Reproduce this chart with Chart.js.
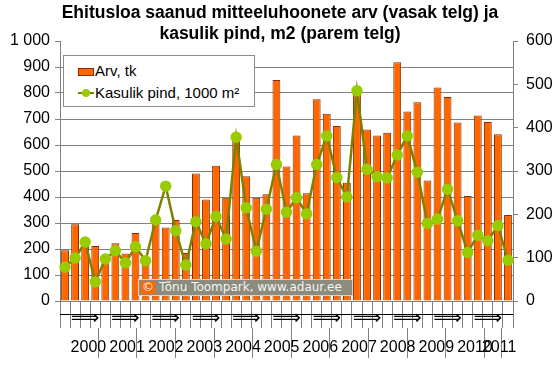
<!DOCTYPE html>
<html>
<head>
<meta charset="utf-8">
<script src="https://cdn.jsdelivr.net/npm/chart.js@4.4.1/dist/chart.umd.min.js"></script>
<style>
  body { margin: 0; background: #fff; }
  #wrap { position: relative; width: 560px; height: 365px; }
  #legend {
    position: absolute; left: 63px; top: 55px; width: 190px; height: 50px;
    background: #fff; border: 1px solid #8c8c8c;
    font: 15px Arial, "Liberation Sans", sans-serif; color: #000;
  }
  #legend .row { position: absolute; left: 14px; height: 20px; line-height: 20px; white-space: nowrap; }
  #legend .box { position: absolute; left: 0; top: 7px; width: 14px; height: 6px; border: 1px solid #803000; }
  #legend .ln { position: absolute; left: 0; top: 9px; width: 16px; height: 2px; }
  #legend .dot { position: absolute; left: 4px; top: 6px; width: 8px; height: 8px; border-radius: 50%; }
  #legend .txt { position: absolute; left: 17px; top: 0; }
  #copyright {
    position: absolute; left: 138px; top: 279px; width: 213px; height: 15px;
    background: #8b8b7e; border: 1px solid #d4d4cc; color: #f6f6f6;
    font: 12px "DejaVu Sans", sans-serif; line-height: 15px; white-space: nowrap;
  }
  #copyright .c {
    display: inline-block; width: 14px; height: 13px; margin: 1px 4px 0 2px;
    background: #ff6600; color: #fff; text-align: center; line-height: 13px; vertical-align: top;
  }
</style>
</head>
<body>
<div id="wrap">
  <canvas id="chart" width="560" height="365"></canvas>
  <div id="legend"></div>
  <div id="copyright"><span class="c">©</span>Tõnu Toompark, www.adaur.ee</div>
</div>
<script>
// andmed: kvartalid 2000 I ... 2011 I
const years = ['2000', '2001', '2002', '2003', '2004', '2005', '2006', '2007', '2008', '2009', '2010', '2011'];
const quarterNames = ['I', 'II', 'III', 'IV'];
const quarterMarks = ['', '', '\u27F9', ''];

const arv = [195, 295, 212, 212, 160, 222, 183, 262, 165, 296, 283, 312,
             185, 490, 390, 520, 397, 630, 480, 397, 411, 850, 517, 637,
             414, 776, 720, 673, 455, 810, 660, 637, 647, 918, 729, 764,
             463, 821, 785, 687, 404, 713, 688, 641, 331];
const pind = [78, 99, 136, 44, 97, 116, 88, 125, 93, 187, 265, 162,
              83, 183, 132, 195, 143, 378, 215, 115, 212, 315, 205, 238,
              201, 315, 381, 285, 240, 485, 304, 287, 284, 337, 381, 297,
              179, 189, 258, 185, 112, 152, 139, 174, 94];

const leftTicks = ['0', '100', '200', '300', '400', '500', '600', '700', '800', '900', '1 000'];
const rightTicks = ['0', '100', '200', '300', '400', '500', '600'];

const seriesNames = ['Arv, tk', 'Kasulik pind, 1000 m\u00B2'];

const periods = [];
years.forEach(y => quarterNames.forEach(q => periods.push(y + ' ' + q)));
periods.length = arv.length;

// aastate piirid ja keskkohad alumisele teljele
const yearTicks = [];
const yearBounds = new Set();
const yearCenters = {};
years.forEach((y, i) => {
    const start = i * 4;
    const n = Math.min(4, periods.length - start);
    yearBounds.add(start);
    yearTicks.push({ value: start });
    yearCenters[start + n / 2] = y;
    yearTicks.push({ value: start + n / 2 });
});
yearBounds.add(periods.length);
yearTicks.push({ value: periods.length });

const font = 'Arial, "Liberation Sans", sans-serif';
const gray = '#808080';

const axisRule = {
    id: 'axisRule',
    afterDraw(chart) {
        const x = chart.scales.x;
        const c = chart.ctx;
        c.save();
        c.strokeStyle = '#000';
        c.lineWidth = 1;
        c.beginPath();
        c.moveTo(x.left, x.top + 13.5);
        c.lineTo(x.right, x.top + 13.5);
        c.stroke();
        c.restore();
    }
};

const chart = new Chart(document.getElementById('chart'), {
    type: 'bar',
    data: {
        labels: periods,
        datasets: [{
            type: 'bar',
            label: seriesNames[0],
            data: arv,
            yAxisID: 'y',
            backgroundColor: '#ff6600',
            borderColor: '#803000',
            borderWidth: 1,
            categoryPercentage: 1,
            barPercentage: 0.78,
            order: 2
        }, {
            type: 'line',
            label: seriesNames[1],
            data: pind,
            yAxisID: 'y2',
            borderColor: '#808000',
            borderWidth: 2.5,
            pointBackgroundColor: '#99cc00',
            pointBorderColor: '#99cc00',
            pointRadius: 4.5,
            tension: 0,
            order: 1
        }]
    },
    options: {
        responsive: false,
        animation: false,
        events: [],
        plugins: {
            legend: { display: false },
            tooltip: { enabled: false },
            title: {
                display: true,
                text: ['Ehitusloa saanud mitteeluhoonete arv (vasak telg) ja', 'kasulik pind, m2 (parem telg)'],
                color: '#000',
                font: { family: font, size: 17.5, weight: 'bold', lineHeight: 1.2 },
                padding: { top: 3, bottom: -4 }
            }
        },
        scales: {
            x: {
                type: 'category',
                position: 'bottom',
                weight: 0,
                grid: { drawOnChartArea: false, drawTicks: true, tickLength: 27, color: gray, offset: true },
                border: { color: gray },
                ticks: {
                    autoSkip: false, maxRotation: 0, minRotation: 0,
                    padding: -19,
                    color: '#000',
                    font: { family: '"DejaVu Sans", sans-serif', size: 20, lineHeight: 1 },
                    callback: (v, i) => quarterMarks[i % 4]
                },
                afterFit: s => { s.height = 27; }
            },
            x2: {
                type: 'linear',
                position: 'bottom',
                weight: 1,
                min: 0,
                max: periods.length,
                afterBuildTicks: s => { s.ticks = yearTicks.map(t => ({ value: t.value })); },
                grid: {
                    drawOnChartArea: false, drawTicks: true, tickLength: 30,
                    color: ctx => (ctx.tick && yearBounds.has(ctx.tick.value)) ? gray : 'rgba(0,0,0,0)'
                },
                border: { display: false },
                ticks: {
                    autoSkip: false, maxRotation: 0, minRotation: 0,
                    padding: -20,
                    color: '#000',
                    font: { family: font, size: 16 },
                    callback: v => yearCenters[v] || ''
                },
                afterFit: s => { s.height = 37; }
            },
            y: {
                position: 'left',
                min: 0, max: 1000,
                ticks: {
                    stepSize: 100, color: '#000', padding: 5,
                    font: { family: font, size: 16 },
                    callback: v => leftTicks[Math.round(v / 100)]
                },
                grid: {
                    color: ctx => (ctx.tick && ctx.tick.value === 1000) ? 'rgba(0,0,0,0)' : gray,
                    tickColor: gray, tickLength: 5
                },
                border: { color: gray },
                afterFit: s => { s.width = 60; }
            },
            y2: {
                position: 'right',
                min: 0, max: 600,
                ticks: {
                    stepSize: 100, color: '#000', padding: 8,
                    font: { family: font, size: 16 },
                    callback: v => rightTicks[Math.round(v / 100)]
                },
                grid: { drawOnChartArea: false, tickColor: gray, tickLength: 5 },
                border: { color: gray },
                afterFit: s => { s.width = 47; }
            }
        }
    },
    plugins: [axisRule]
});

// legend graafiku sees
const legend = document.getElementById('legend');
chart.data.datasets.forEach((ds, i) => {
    const row = document.createElement('div');
    row.className = 'row';
    row.style.top = (5 + i * 22) + 'px';
    if (ds.type === 'bar') {
        row.innerHTML = '<span class="box" style="background:' + ds.backgroundColor + '"></span>';
    } else {
        row.innerHTML = '<span class="ln" style="background:' + ds.borderColor + '"></span>' +
            '<span class="dot" style="background:' + ds.pointBackgroundColor + '"></span>';
    }
    row.innerHTML += '<span class="txt">' + ds.label + '</span>';
    legend.appendChild(row);
});
</script>
</body>
</html>
